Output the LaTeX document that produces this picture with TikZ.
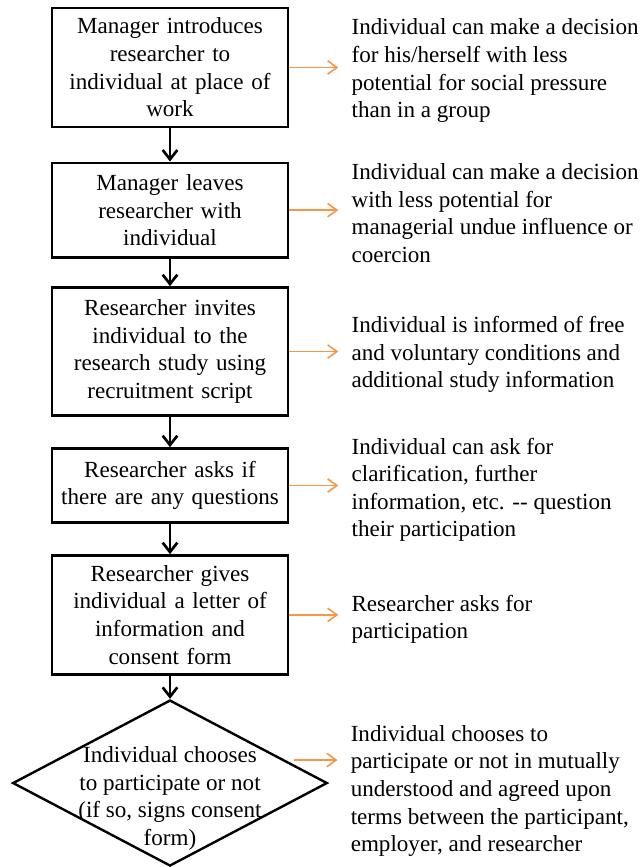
\documentclass[tikz,border=0pt]{standalone}
\usepackage{fontspec}
\setmainfont{Liberation Serif}
\usetikzlibrary{shapes,positioning,arrows.meta}
\definecolor{notearrow}{RGB}{247,150,70}

\begin{document}
\begin{tikzpicture}[x=0.75pt,y=-0.75pt,
                    font=\fontsize{17.3pt}{20.7pt}\selectfont,
                    procbox/.style={draw,line width=2pt,text width=170pt,align=center,minimum width=177pt,inner sep=0pt},
                    note/.style={anchor=west,align=left,inner sep=0pt},
                    flow/.style={line width=2pt,-{Straight Barb[length=7pt,width=11pt]}},
                    side/.style={notearrow,line width=1.2pt,-{Straight Barb[length=7pt,width=10pt]},shorten >=9.75pt}]
                    \useasboundingbox (0,0) rectangle (641,867);
                    \node[procbox,minimum height=89pt] (s1) at (170,67.5) {Manager introduces\\researcher to\\individual at place of\\work};
                    \node[procbox,minimum height=71pt,below=25pt of s1] (s2) {Manager leaves\\researcher with\\individual};
                    \node[procbox,minimum height=96pt,below=20.5pt of s2] (s3) {Researcher invites\\individual to the\\research study using\\recruitment script};
                    \node[procbox,minimum height=55.5pt,below=22.75pt of s3] (s4) {Researcher asks if\\there are any questions};
                    \node[procbox,minimum height=89pt,below=22.75pt of s4] (s5) {Researcher gives\\individual a letter of\\information and\\consent form};
                    \node[draw,diamond,line width=1.8pt,minimum width=236pt,minimum height=124.5pt,inner sep=0pt,below=17.5pt of s5] (dm) {};
                    \node[align=center,inner sep=0pt] (dmtext) at ([yshift=-11.5pt]dm.center) {Individual chooses\\to participate or not\\(if so, signs consent\\form)};
                    \node[note,right=46.5pt of s1,yshift=-2.5pt] (n1) {Individual can make a decision\\for his/herself with less\\potential for social pressure\\than in a group};
                    \node[note,right=46.5pt of s2,yshift=-2.25pt] (n2) {Individual can make a decision\\with less potential for\\managerial undue influence or\\coercion};
                    \node[note,right=46.5pt of s3,yshift=-2.25pt] (n3) {Individual is informed of free\\and voluntary conditions and\\additional study information};
                    \node[note,right=46.5pt of s4,yshift=-3.25pt] (n4) {Individual can ask for\\clarification, further\\information, etc. -{}- question\\their participation};
                    \node[note,right=46.5pt of s5,yshift=-3.5pt] (n5) {Researcher asks for\\participation};
                    \node[note,right=16.5pt of dm,yshift=-6pt] (n6) {Individual chooses to\\participate or not in mutually\\understood and agreed upon\\terms between the participant,\\employer, and researcher};
                    \coordinate (o6) at ([xshift=93pt,yshift=17.25pt]dm.center);
                    \foreach \a/\b in {s1/s2,s2/s3,s3/s4,s4/s5,s5/dm}
                        \draw[flow] (\a) -- (\b);
                    \foreach \i in {1,...,5}
                        \draw[side] (s\i.east) -- (s\i.east -| n\i.west);
                    \draw[side] (o6) -- (o6 -| n6.west);
                \end{tikzpicture}
\end{document}
